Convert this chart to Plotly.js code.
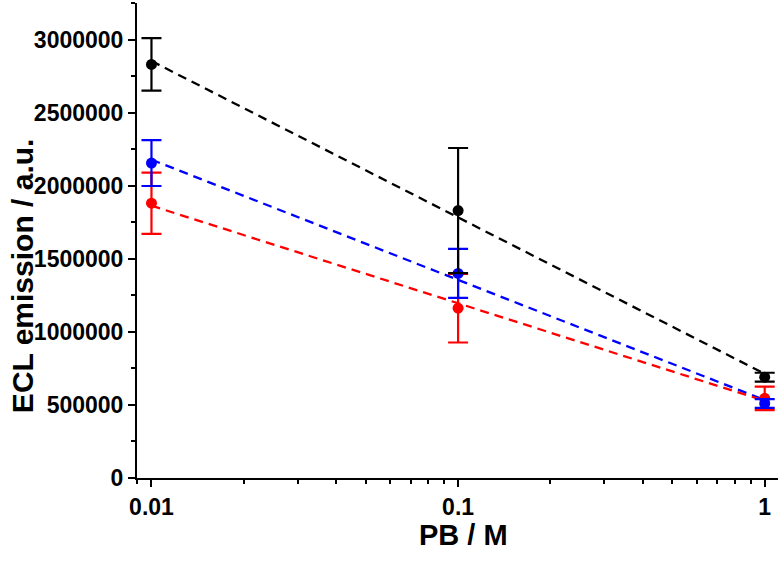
<!DOCTYPE html>
<html>
<head>
<meta charset="utf-8">
<script src="https://cdn.plot.ly/plotly-3.0.1.min.js"></script>
<style>html,body{margin:0;padding:0;background:#fff;}#chart{width:780px;height:563px;}</style>
</head>
<body>
<div id="chart"></div>
<script>
// PB concentration (M)
const pb = [0.01, 0.1, 1];
// ECL emission means and errors (a.u.)
const blackY = [2830000, 1830000, 690000];
const blackErr = [180000, 428000, 30000];
const blueY = [2155000, 1400000, 510000];
const blueErr = [157000, 168000, 30000];
const redY = [1880000, 1162000, 545000];
const redErr = [209000, 235000, 80000];
// dashed fit lines, read at the ends
const fitX = [0.01, 1];
const fitBlack = [2853000, 713000];
const fitBlue = [2178000, 533000];
const fitRed = [1863000, 528000];
// tick labels and titles
const xTickVals = [0.01, 0.1, 1];
const xTickText = ['0.01', '0.1', '1'];
const yTickVals = [0, 500000, 1000000, 1500000, 2000000, 2500000, 3000000];
const yTickText = ['0', '500000', '1000000', '1500000', '2000000', '2500000', '3000000'];
const xTitle = 'PB / M';
const yTitle = 'ECL emission / a.u.';

const minorX = [0.009];
[0.01, 0.1].forEach(d => { for (let k = 2; k <= 9; k++) minorX.push(d * k); });

function fit(y, color) {
  return {x: fitX, y: y, mode: 'lines', type: 'scatter', showlegend: false,
    line: {color: color, width: 2.3, dash: '9px,6px'}, hoverinfo: 'skip'};
}
function pts(y, e, color) {
  return {x: pb, y: y, mode: 'markers', type: 'scatter', showlegend: false,
    marker: {color: color, size: 11},
    error_y: {type: 'data', array: e, visible: true, color: color, thickness: 2.2, width: 10}};
}
const data = [
  fit(fitBlack, '#000000'), fit(fitBlue, '#0000ff'), fit(fitRed, '#ff0000'),
  pts(redY, redErr, '#ff0000'), pts(blueY, blueErr, '#0000ff'), pts(blackY, blackErr, '#000000')
];
const fam = 'Liberation Sans, Arial, sans-serif';
const layout = {
  width: 780, height: 563,
  margin: {l: 137, r: 2, t: 3, b: 85},
  paper_bgcolor: '#ffffff', plot_bgcolor: '#ffffff',
  font: {family: fam, color: '#000'},
  xaxis: {
    type: 'log', range: [Math.log10(0.00897), Math.log10(1.105)],
    tickmode: 'array', tickvals: xTickVals, ticktext: xTickText,
    ticks: 'outside', ticklen: 7, tickwidth: 2, tickcolor: '#000',
    minor: {tickmode: 'array', tickvals: minorX, ticks: 'outside', ticklen: 4, tickwidth: 2, tickcolor: '#000'},
    showline: true, linecolor: '#000', linewidth: 2, mirror: false,
    showgrid: false, zeroline: false,
    tickfont: {family: fam, size: 23, color: '#000', weight: 'bold'}
  },
  yaxis: {
    range: [0, 3250000],
    tickmode: 'array', tickvals: yTickVals, ticktext: yTickText,
    ticks: 'outside', ticklen: 7, tickwidth: 2, tickcolor: '#000',
    minor: {dtick: 250000, tick0: 0, ticks: 'outside', ticklen: 4, tickwidth: 2, tickcolor: '#000'},
    showline: true, linecolor: '#000', linewidth: 2, mirror: false,
    showgrid: false, zeroline: false,
    tickfont: {family: fam, size: 23, color: '#000', weight: 'bold'}
  },
  annotations: [
    {text: '<b>' + xTitle + '</b>', xref: 'paper', yref: 'paper', x: 0.51, y: 0,
     xanchor: 'center', yanchor: 'middle', yshift: -57, showarrow: false,
     font: {family: fam, size: 29, color: '#000'}},
    {text: '<b>' + yTitle + '</b>', xref: 'paper', yref: 'paper', x: 0, y: 0.425,
     xanchor: 'center', yanchor: 'middle', xshift: -115, textangle: -90, showarrow: false,
     font: {family: fam, size: 30, color: '#000'}}
  ]
};
Plotly.newPlot('chart', data, layout, {displayModeBar: false, staticPlot: true});
</script>
</body>
</html>
